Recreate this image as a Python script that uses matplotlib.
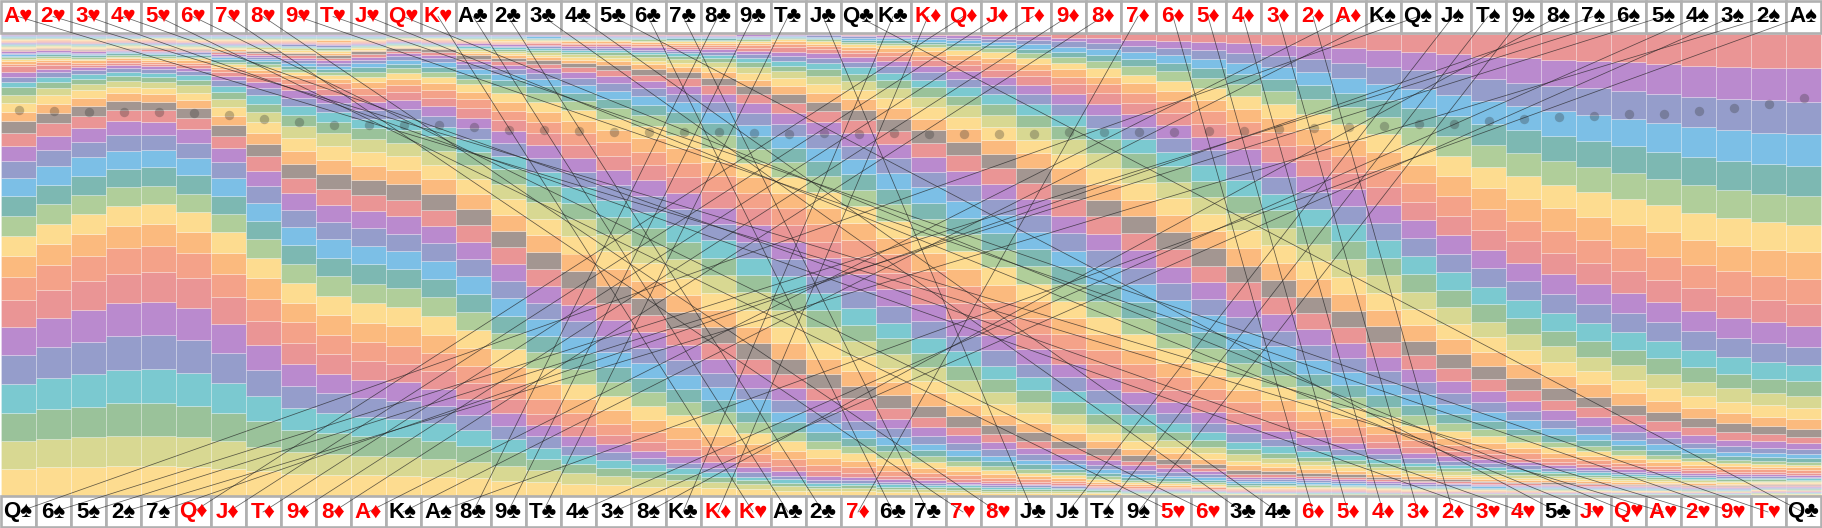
import matplotlib.pyplot as plt
from matplotlib.patches import Rectangle

top_cards = ['A♥','2♥','3♥','4♥','5♥','6♥','7♥','8♥','9♥','T♥','J♥','Q♥','K♥',
             'A♣','2♣','3♣','4♣','5♣','6♣','7♣','8♣','9♣','T♣','J♣','Q♣','K♣',
             'K♦','Q♦','J♦','T♦','9♦','8♦','7♦','6♦','5♦','4♦','3♦','2♦','A♦',
             'K♠','Q♠','J♠','T♠','9♠','8♠','7♠','6♠','5♠','4♠','3♠','2♠','A♠']
bottom_cards = ['Q♠','6♠','5♠','2♠','7♠','Q♦','J♦','T♦','9♦','8♦','A♦','K♠','A♠',
                '8♣','9♣','T♣','4♠','3♠','8♠','K♣','K♦','K♥','A♣','2♣','7♦','6♣',
                '7♣','7♥','8♥','J♣','J♠','T♠','9♠','5♥','6♥','3♣','4♣','6♦','5♦',
                '4♦','3♦','2♦','3♥','4♥','5♣','J♥','Q♥','A♥','2♥','9♥','T♥','Q♣']

# repeats bottom to top in every column
band_colors = ['#FDDC90','#D8D892','#9AC29A','#7BC9D0','#959DCB','#BA8ACE','#EA9595','#F4A289','#FBBA7E',
               '#FDDC90','#B0CE9A','#7DB8B2','#7CBFE6','#959DCB','#BA8ACE','#EA9595','#A39691','#FBBA7E']

# one row per column, bands bottom to top
heights = [
[26.7,28,28,28.7,29,28,27,23.3,21,20.3,20,20,18.3,16.3,15,13.3,11.7,9.7,9,7.7,7.7,5.7,5,4.3,6,2.6,2.4,2.2,1.9,1.7,1.5,1.4,1.2,1.1,1.2,1,1,1,1,.9,.9,.9,.9,.9,.9,.9,.9,.9,.9,.9,.9,.9],
[28,28.7,29.3,31,31,29.7,27.7,24.7,21.3,20.3,19.7,19,18.7,16,14.7,12.7,10.3,9,8.3,7.3,5.7,5.3,4.7,3.7,4,2.6,2.3,2,1.8,1.6,1.4,1.3,1.2,1.2,1,1,.9,.9,.9,.9,.9,.9,.9,.9,.8,.8,.8,.8,.8,.8,.8,.8],
[28.3,30,30.7,33,32,31.7,29,25,22,20.3,19,19,18.3,15.7,14,12,9.7,8,7.7,6.3,5.3,4.7,3.5,3,2.5,2.3,2.1,1.9,1.7,1.5,1.4,1.3,1.2,1.2,1.1,1,1,1,.9,.9,.9,.9,.9,.9,.9,.9,.9,.9,.9,.9,.9,.9],
[29.3,30,32.7,33,34,33,29.7,25.3,22,20.7,18.7,18.3,17.7,16,13.7,11,9,7.7,6.7,6,4.7,4.3,3.5,3,2.7,2.2,2,1.8,1.6,1.5,1.3,1.2,1.1,1.1,1,1,.9,.9,.9,.9,.8,.8,.8,.8,.8,.8,.8,.8,.8,.8,.8,.8],
[29.3,30.3,33,33.7,34.3,33.3,30.3,25.3,22,20,18.7,18.3,17.7,15,13,11.3,9,7.3,6.3,5.7,5.3,4,3.5,3,2.5,2.3,2.1,1.9,1.7,1.5,1.4,1.3,1.2,1.1,1.1,1,1,.9,.9,.9,.9,.9,.9,.9,.9,.9,.8,.8,.8,.8,.8,.8],
[28.3,30.3,30.7,33,33,32.7,29.3,25,21.3,20,18.7,18.3,17.7,14.7,14,11.3,9.7,7.7,7.7,7.3,5.3,4.7,4,3.3,2.8,2.5,2.2,2,1.8,1.6,1.4,1.3,1.2,1.1,1.1,1,1,.9,.9,.9,.9,.9,.9,.9,.9,.9,.9,.9,.9,.9,.9,.9],
[26.7,27.7,28.3,29.7,30.3,29,27,23.3,21.3,20.3,18.3,18,18.3,15.7,14.3,12.3,11,9,9,7.7,6.7,6.7,5.5,4.5,3.5,3,2.5,2.6,2.4,2.2,2,1.8,1.7,1.6,1.5,1.4,1.3,1.2,1.1,1.1,1,1,1,1,1,.9,.9,.9,.9,.9,.9,.9],
[24.3,24,25.7,25.3,26,24.7,24.3,21.7,20.3,20,19,18.3,18,17,15.3,14,12,11.7,10.3,10.3,8.3,8.3,7.3,6,5,4,3.5,3,2.8,2.5,2.3,2.1,1.9,1.8,1.6,1.5,1.4,1.3,1.2,1.1,1.1,1,1,1,1,.9,.9,.9,.9,.9,.9,.9],
[21.7,21.7,21.7,22.3,21.7,22,21,20.7,19.3,19.7,19,19,18.3,17,16.7,15,14,13,13,11.7,10.7,9.3,8.3,7.3,6,5,4,3.5,3,3.2,2.9,2.7,2.4,2.2,2,1.8,1.7,1.5,1.4,1.3,1.2,1.2,1.1,1.1,1,1,1,.9,.9,.9,.9,.9],
[20.7,20.7,20.7,19.7,20,19.3,19.7,19.3,19.3,19.3,19.3,18.3,18.7,17.3,17,16,15,13.7,14,12.7,11.3,10,8.7,7.5,6.5,5.5,4.5,4,3,2.5,3.4,3,2.7,2.4,2.2,2,1.8,1.7,1.6,1.5,1.4,1.3,1.2,1.2,1.1,1.1,1,1,1,1,.9,.9],
[20.3,19,20.3,18.7,19,18.7,19,19,18.7,19.7,19,19.7,18.3,18,16.7,16.3,15.3,14.3,13.7,13,11.3,8.7,9,8,7,6.5,6,5.5,5,4.5,4,3.5,3,3,2.5,1.6,1.4,1.3,1.2,1.1,1.1,1,1,1,.9,.9,.9,.9,.9,.9,.9,.9],
[19.3,19,20,18,18.3,18.7,18.3,18.3,19.3,19.3,19,19,18.3,17.3,17.7,16.3,15.3,14,14.7,12.7,13.3,11,10,9,8,7,6,5.5,5,4.5,4,3.5,3,2.5,2.5,1.4,1.2,1.1,1,.9,.9,.8,.8,.8,.8,.8,.8,.8,.7,.7,.7,.7],
[18.3,18.7,17.7,18,17.3,16.7,18,18.3,18.3,18.7,18.7,18.7,18.3,18,16.7,16.3,15.3,15,15,14,15,9,11,9.5,8.5,7.5,7,6,5.5,5,4.5,4,3.5,3,2.5,1.3,1.2,1.1,1,1,.9,.9,.9,.9,.9,.9,.9,.8,.8,.8,.8,.8],
[17.5,15.7,16.6,15.4,15.6,15.4,16.3,17,17.3,18,18,18,18,17,17,17.4,15.3,15.3,14.7,14,13,13.3,11.3,9.7,9.7,8.7,7.3,7.7,5.7,5,5,5,2.7,2.3,3.3,2.2,2,1.8,1.7,1.5,1.4,1.3,1.2,1.1,1,1,1,1,.9,.9,.9,.9],
[15,14.3,14,13,13.3,13.3,14,15.3,16.7,17.3,16.7,17,17.7,16.7,17.3,16.7,16.3,16,16.7,15,15,13,12.7,12,10.7,9.3,9,8.7,7.3,6.3,6,5,4,3.7,3.3,2.6,2.3,2.1,1.9,1.7,1.5,1.4,1.3,1.2,1.1,1.1,1,1,1,1,1,1],
[13.3,12.3,11.3,11,11.3,11,11.7,14.3,15.7,15.7,16,16,16.7,16.7,17,16.7,16.7,16.7,16.7,16.7,15.7,14.7,13.7,12.7,12.3,10.7,10.7,10,8.3,7,7,6,5,4.7,3.3,3,2.7,2.4,2.2,1.9,1.7,1.5,1.4,1.3,1.2,1.2,1.1,1.1,1.1,1,1,1],
[11.7,10.7,9.3,9.3,9,9.3,10.7,12.7,14,15,14.7,16,16,16,16.3,17.3,16.7,17.3,18,17,15.7,16,14.7,14,13,12,11.7,11,9.3,8.3,7.7,6.7,6,5,4,3.5,3,2.7,2.4,2.2,2,1.8,1.6,1.5,1.4,1.3,1.2,1.1,1.1,1.1,1,1],
[10.7,8.3,8.7,7.7,7.7,8,9,11.7,13.3,14.3,14.3,14.7,15,15.7,16,17.3,16.7,17.7,17.3,17.3,17,16.7,15,15,14,13.7,12,11.7,10.3,9,8.3,8,6.7,6.3,5,3.8,3.3,2.9,2.6,2.3,2.1,1.9,1.7,1.6,1.4,1.3,1.2,1.2,1.1,1.1,1,1],
[9,8.7,6.7,6.7,6,7.3,9,10,12.3,14,13.7,14.3,15,15,16.3,16.3,17.3,17.3,18,17.3,17.3,16.7,16,15.7,14.7,13.7,13.3,12.3,11.3,10,9,8.3,6.7,6.3,6,4.2,3.7,3.3,3,2.6,2.3,2.1,1.9,1.7,1.6,1.5,1.4,1.3,1.2,1.2,1.1,1.1],
[8.3,7.3,5.7,5.7,5.3,6.7,7.7,9.3,12,12.7,13,12.7,14,14.7,15,16.7,16.7,16.7,16.7,19,17.3,16.7,16.3,16,15.7,14.3,14.3,13,12,10.7,10,8.7,8,7.7,5.7,5,4.3,3.7,3.2,2.8,2.5,2.2,2,1.9,1.7,1.6,1.5,1.4,1.3,1.2,1.2,1.2],
[7.3,5.7,5,5,4.7,5.7,7,9,10.3,12,12,12,12.3,14,14.3,15.7,16.7,16.7,17.3,17.3,17.3,17.7,16.3,16.3,16.3,15.3,14.3,13.7,13.3,11.7,10.7,10,8.7,8.3,7.3,6,5,4.5,4,3.5,3,2.7,2.4,2.1,1.9,1.7,1.5,1.4,1.3,1.2,1.1,1.1],
[6.3,5,4.3,3.3,4.3,5,5.3,8,10,10.7,11,10.3,13,11.3,14,15,15.7,16.7,16.7,17.7,17.3,17,16.3,16.7,16.7,15.7,16,14.3,14,12.3,11.7,11.3,10,9.3,7.7,6.3,6.7,6,5,4.3,4,3.3,3,2.7,2.3,2,1.6,1.4,1.2,1.1,1.1,1],
[5,4.3,3.7,3.3,3.3,4.7,5,7,8.3,9.7,9.3,9.7,10.3,12,12.3,14,15,15.7,16.3,16.7,16.7,17,17.7,16.7,17.3,16.3,15.7,16,14.7,13.7,12.7,11.7,10.7,10,9.7,7.7,7.7,7,5.7,5,4.7,4.3,4.3,3.5,3,1.4,1.2,1,1,.9,.9,.9],
[4.3,3.3,2.3,2.7,3,4,5,6,7.3,8.7,8.3,8.3,9.3,10.7,12.3,12.3,13.7,15,16,15.7,16.7,17,17.7,17.3,16.7,17.3,16.3,16.3,15.7,14.7,13.7,13.3,12,11,9.3,9,9,8.3,7,5.7,5.3,4.3,4,3,2.7,2.3,2,1.5,1.4,1.1,1,.9],
[4,3.7,2.5,2.5,2.7,3.3,4,5.3,6.3,7.7,7.3,7.7,8.3,9.3,10.7,12.3,12.3,14.3,15,15.3,15.7,17.3,16.7,17,17.3,16.7,16.7,17.3,16,15.7,15,13.3,13.3,12.3,10.7,10.3,9.3,9,7.3,6.7,5.3,4.7,4.3,3.3,3,2.6,2.3,2,1.8,1.6,1.4,1.3],
[3.3,3.3,2.2,2.3,2.3,3,3.3,5,6,7,6.7,6.3,7.3,9,9.7,11,12.3,13,14.3,14.3,15.3,15.7,16.7,17,15.7,19,16.7,17,16.7,15.3,16,14.3,14,13.3,12.3,11,10,10,7.7,7.3,6.7,5,5,4.3,3.3,3,2.6,2.3,2,1.8,1.6,1.5],
[3.7,3,2.3,2,2,2.5,3,4.3,5,5.7,6,5.7,6.7,8,8.7,10,11.3,12.7,12.7,14,14.3,15,17,16.3,17.3,16.7,17.7,17,17.3,16,16,15,14.7,14.3,12.7,11.7,11.7,10.7,9.3,7.7,7.3,6.7,5.7,4.3,5,3.5,3,2.7,2.4,2,1.9,1.8],
[3.3,2.7,2.2,2,1.8,2,2.7,3.7,4.3,5,4.7,5.3,5.7,7.3,8.3,8.3,10.3,11.3,13,12,14.3,15,15.3,17,16.3,16.7,17.3,17.7,17.3,16.7,16.7,16.3,14.3,15.7,13.3,12.7,12.7,11.3,9.3,9,8.3,7.7,6.7,5,5,4.3,4,3.3,3,2.5,2.2,2],
[2.7,2.3,2,1.7,1.7,2,2.3,3,3.7,4.3,4.3,4.7,5.3,7,7,8,8.7,10,11,12,13,13.7,15.3,15.7,16,16.7,16.7,18.3,17.3,17.3,17.3,16.3,15.3,16,14,14.3,12.3,12.7,10.7,10.3,9,8,7,6.7,5.7,5.3,4,3.3,3.3,3,2.7,2.6],
[2.7,2.2,2,1.7,1.5,1.7,2,2.5,3,3.7,4,4.3,4,6,6.7,7,8.7,9,10,11,12.3,13,13.7,15,15,16,16.7,17.7,17.3,17.3,17.3,17,15.7,16.3,15.3,15,13.3,13.3,11.7,11,9.7,9.3,9,6,6.7,5.7,5,4.3,4.5,4.5,3.3,3],
[2.5,2,1.8,1.5,1.3,1.5,1.8,2.3,2.7,3,3.3,3.3,4.3,4.3,5.7,6.3,6.7,8.7,9,10,11.7,11.7,13.3,13.3,15,15,16.7,16.7,16.7,18.3,15.7,17.7,17.3,16.7,15,15.7,14.3,15,13.3,11,10.7,10.7,10,7.3,7.3,6,6,5.7,5,5.3,3.7,4.3],
[2.1,1.7,1.4,1.1,1,1.2,1.5,1.8,2.2,2.6,2.9,3,4,4.3,5,5.3,6.3,7.7,8,9,9.3,11.7,12.3,12.7,13.3,15,16,16.3,16.3,16.7,17,17.3,16.7,17.3,16.3,16,16,15,14,11.7,12.7,11,10.7,9.3,7.3,8.3,7.3,6,6,5.7,5.3,4.7],
[1.6,1.2,1,.8,.9,1.1,1.4,1.7,1.9,2.1,2.3,2.5,3,4.3,4.3,4.7,6,6.3,7.7,7.7,8.3,10.7,10.7,11.7,13.7,14,14.3,15.7,16,16.7,17.3,16.7,18,17.3,16.7,16,16.7,15.7,14.3,14,12.7,12.3,11.7,10,9.3,8.7,8.7,7,7.3,6,5.7,6.7],
[1.5,1.2,.9,.7,.8,1,1.2,1.5,1.8,2,2.2,2.4,2.8,3.7,3.7,4,4.7,6,6.7,6.7,8.3,8.7,10,11.3,12,12.3,14.7,14.7,15,15.7,17.3,16.7,16.7,17.7,17,17,16.7,16.7,15.7,14.3,13.3,13.3,12,11.7,10.7,10,9.7,7.7,8.3,7.3,7,7.3],
[1.5,1.1,.8,.6,.7,.9,1.1,1.4,1.6,1.8,2,2.2,2.6,3,3,3.3,4,4.7,6,6.3,7,8,9,10.7,11.7,11.7,12.7,14.3,14,15.7,16.7,16,16.7,16.7,18,17,17,16.7,16.3,15.3,15,13.3,13.3,12.7,11.3,11.3,10.7,10,9,9,8,8],
[1.2,.9,.6,.5,.6,.7,.9,1,1.2,1.3,1.5,1.7,2,2.2,2.5,3,3.7,4.3,4.7,6.3,5.7,7,8,9.7,10.3,11,11.7,13.3,14,14,16,16,16.7,17.3,16,18,17.7,16.7,16.7,16.3,15,15.3,14.3,13.3,13,12.7,11.7,10,11,10,9.7,9.3],
[1.2,.9,.6,.5,.6,.8,.9,1,1.2,1.3,1.5,1.7,1.9,2.1,2.3,2.7,3,3.7,4.7,4.7,5.3,6.3,7.3,8,9.7,10.3,10.7,13,12.3,13.7,14.7,15.7,16.3,17,16.7,17.7,17.3,17,17.7,16.3,16.7,15.3,15.7,14.3,14,13.7,13,12.3,11.7,11.3,11,11],
[1.1,.8,.6,.5,.6,.7,.9,1,1.1,1.3,1.4,1.6,1.8,2,2.2,2.3,2.7,3.7,3.7,4,4.7,5.3,6,8,8,8.7,10,12,12.3,12.7,13.7,14.7,15.7,16,16.7,17.3,17.7,17.3,17.7,17.3,16.7,16.7,15.7,15,16,15,14.3,14,13.3,13,12.7,12.7],
[1.1,.8,.6,.5,.6,.7,.8,.9,1,1.1,1.2,1.4,1.6,1.8,2,2.3,2.7,3.3,3.7,3.7,3.7,5,6,6,7.3,8.7,8.7,10.3,11.3,12,12.7,14,15,15.7,16,16.7,17.7,18,17.3,17.7,17.3,17,16.7,16.7,16.3,16,16.3,14.7,15,14.7,15,14.3],
[1,.7,.6,.5,.5,.6,.7,.8,.9,1,1.1,1.2,1.4,1.6,1.8,2.3,2.3,3,3.3,3.7,3.7,4.3,5,5.7,6.3,7.3,8.7,8.7,10.3,11.3,11.7,12.7,14.3,15,15.3,16.3,17.3,17.7,17,17.7,17.7,18,17.3,17.3,17.7,18,17,17,16.7,17,16.3,16.7],
[1,.7,.5,.4,.4,.5,.6,.7,.8,.9,1,1.1,1.3,1.5,1.7,1.9,2,2.7,3,3.3,3.7,3.3,4.7,5.3,5.7,6.7,8,7.7,9.3,10,11.3,11.7,13,14,14.7,15.7,16.3,16.7,17.7,18,18,18.3,18.3,18.7,18.7,19.3,18.7,18.3,19,19,18,19],
[1,.7,.5,.4,.4,.5,.6,.7,.8,.9,1,1.1,1.2,1.4,1.5,1.7,1.9,2.2,2.3,3.3,3.7,3.3,3.3,5.3,5.3,5.7,7,7,8.3,9,10,11.3,12,13,14,14.7,15.3,16.7,17.3,18,18.3,19,19.3,19.3,20,20.3,20,20.7,20.3,21.3,19.7,21],
[.9,.7,.5,.4,.4,.5,.6,.6,.7,.8,.9,1,1.1,1.2,1.4,1.5,1.7,2,2.3,2.7,3.3,3.7,3.3,4,5.3,5.3,5.7,7.3,6.7,8.3,8.7,10.3,11,12.3,13,13.7,16,15,17.3,17.7,18.7,18.7,20,21,21,21.3,22,21.3,22.7,22,22.7,23.3],
[.9,.7,.5,.4,.4,.5,.5,.6,.6,.7,.8,.9,1,1.1,1.3,1.4,1.7,1.9,2.2,2.6,3,3.3,3.3,3.3,3.5,5.3,5.3,6.3,6.7,6.7,8.7,9,10,11,12.3,13.7,14.7,16,16,18,19,18.3,21.7,20.7,21.7,23,23,23.3,24,24,25,24.3],
[.8,.6,.5,.4,.4,.4,.5,.6,.6,.7,.8,.9,1,1.1,1.3,1.4,1.6,1.8,2,2.3,2.5,2.7,2.9,3,3.3,4,5,5.3,5.7,6.7,6.7,8.3,9.7,10.7,11.7,12.3,14.3,15.3,15.7,18,19,20,21,22,22.7,23.7,24,25,25,25.3,26,26.7],
[.8,.6,.5,.4,.4,.4,.5,.5,.6,.7,.7,.8,.9,1,1.2,1.3,1.5,1.7,1.9,2.1,2.3,2.5,2.7,2.7,3,3.7,4.3,4.7,5.3,5.7,6.7,7.3,9,10,10.7,12.3,13.3,14.7,16,18,18.7,20,20.7,23.7,23,25,25,26,26.3,26.7,27.3,27.7],
[.8,.6,.5,.4,.4,.4,.4,.5,.5,.6,.7,.7,.8,1,1.1,1.2,1.4,1.5,1.7,1.9,2,2.2,2.4,2.7,3,3,4,4.3,4.7,4.7,5.7,7.3,8,9,10.7,11.7,13,14.7,15.7,17.3,19,20,22.3,22.7,23.7,25.7,26.3,26.3,27,28.3,28.7,29],
[.8,.6,.5,.4,.4,.4,.4,.4,.5,.6,.6,.7,.8,.9,1,1.1,1.3,1.4,1.6,1.8,1.9,2,2.2,2.3,2.3,3,3.3,3.7,4,4.7,5.7,6.3,7.3,9,9.7,11,12.3,14.3,15.7,17,19,20,22,23.7,24.3,26.7,26.7,26.7,29,29,30,30.3],
[.8,.6,.5,.4,.4,.4,.4,.4,.5,.5,.6,.6,.7,.8,.9,1,1.2,1.3,1.5,1.6,1.8,1.9,2,2,2.3,2.7,3,3.3,3.7,4.3,5,5.7,7.3,8,9,10.3,12,14,14.7,17,19,20,23,22.7,25.3,26.7,27.7,28,30,29.7,31,32.3],
[.8,.6,.5,.4,.4,.4,.4,.4,.4,.5,.5,.6,.7,.8,.9,1,1.1,1.2,1.4,1.5,1.6,1.7,1.8,1.7,2.3,2.7,2.7,3,3.3,3.7,4.7,5.3,6.7,7.7,8.7,9.7,11.7,13.3,14.3,16.7,18.7,20.7,22,24.7,25,27.3,28.3,29,31,30.7,32,33.3],
[1.2,1,.8,.5,.4,.4,.4,.4,.4,.5,.5,.6,.7,.7,.8,.9,1,1.1,1.2,1.3,1.4,1.5,1.7,1.8,2.3,2.7,2.7,2.7,3.3,3.7,4.3,4.7,6.3,7.3,7.7,9.3,11.7,12,14.7,16.7,18.7,20.7,22,24.7,26,27.7,28.3,29.7,31,32.3,32.7,34],
[1.3,.9,.7,.5,.4,.4,.4,.4,.4,.5,.5,.6,.7,.7,.8,.9,.9,1,1.1,1.2,1.3,1.4,1.6,1.7,2.3,2.7,2.7,2.7,3,3.7,4,4.7,6,6.7,8,9.7,10.7,12.3,14.3,16.3,18.3,21,22,24.7,26.3,27.7,29,29.7,31.7,32.3,33.7,34.3],
]

# height of the dot in each column, same units as the bands
dots = [386,385,384,384,384,383,381,377,374,371,370.5,370.5,370.5,368.2,365.8,365.2,364.2,363.8,363.2,363.2,
        363.2,362.5,361.8,362.2,361.8,362.2,361.8,361.8,361.8,361.8,363.2,363.2,363.2,363.2,364.2,364.8,366.2,
        367.2,368.2,369.2,371.2,371.8,374.2,376.2,378.2,379.2,381.2,381.8,384.2,387.2,391.2,397.2]

for k, row in enumerate(heights):
    assert len(row) == 52, (k, len(row))

fig = plt.figure(figsize=(18.22, 5.28), dpi=100)
ax = fig.add_axes([0, 0, 1, 1])
ax.set_xlim(-18 / 35, (1822 - 18) / 35)
ax.set_ylim(-32.5, 495.5)
ax.axis('off')

card_h = 31.5
for k in range(52):
    col = heights[k]
    scale = 462 / sum(col)
    bottom = 0
    for i, h in enumerate(col):
        h = h * scale
        ax.bar(k, h, width=1, bottom=bottom, color=band_colors[i % 18],
               edgecolor=(1, 1, 1, 0.3), linewidth=0.55, zorder=1)
        bottom += h
    ax.add_patch(Rectangle((k - 0.5, 463), 1, card_h, fc='white', ec='#b0b0b0', lw=1.9, zorder=2))
    ax.add_patch(Rectangle((k - 0.5, -31.5), 1, card_h, fc='white', ec='#b0b0b0', lw=1.9, zorder=2))

ax.scatter([k + 1 / 35 for k in range(52)], dots, s=46, color='#333333', alpha=0.3, linewidths=0, zorder=3)

for k, card in enumerate(top_cards):
    j = bottom_cards.index(card)
    ax.plot([k, j], [479, -16.5], color='#222222', alpha=0.7, lw=0.55, zorder=4)


def label(x, y, card):
    c = 'red' if card[1] in '♥♦' else 'black'
    ax.text(x, y, card, color=c, fontsize=16, fontweight='bold', ha='center', va='center',
            family=['Liberation Sans', 'DejaVu Sans'], zorder=5)


for k in range(52):
    label(k, 479, top_cards[k])
    label(k, -16.5, bottom_cards[k])

plt.savefig('out.png', dpi=100)
